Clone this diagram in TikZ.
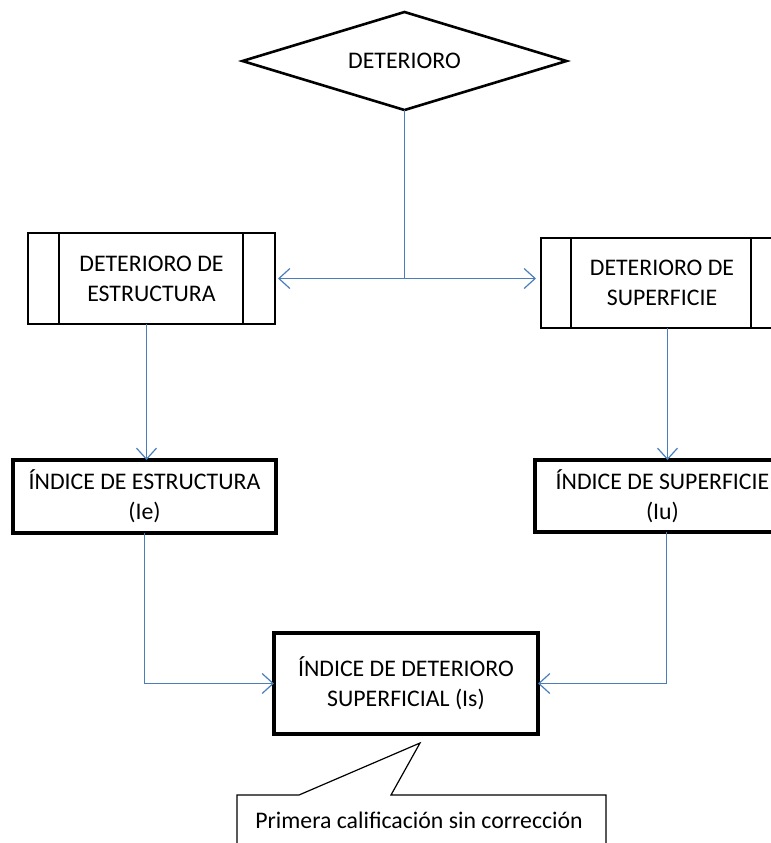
\documentclass[tikz,border=0pt]{standalone}
\usepackage{fontspec}
\setmainfont{Carlito}
\usetikzlibrary{arrows.meta,calc}
\definecolor{linkblue}{HTML}{4A7EBB}
\begin{document}
\begin{tikzpicture}[x=0.5pt,y=-0.5pt,
  font=\fontsize{11.9}{15}\selectfont,
  every node/.style={align=center,inner sep=0pt,outer sep=0pt},
  decision/.style={rectangle,minimum width=162pt,minimum height=49pt},
  procbox/.style={rectangle,draw,line width=1.1pt},
  indexbox/.style={rectangle,draw,line width=1.7pt},
  link/.style={draw=linkblue,line width=0.6pt},
  arr/.style={link,-{Straight Barb[length=5.5pt,width=10pt,line width=0.6pt]}}]
\useasboundingbox (0,0) rectangle (771,843);
\clip (0,0) rectangle (771,843);

% decision at the top, outlined through its anchors
\node[decision] (d) at (404.5,61) {DETERIORO};
\draw[line width=1.3pt,line join=miter] (d.west) -- (d.north) -- (d.east) -- (d.south) -- cycle;

% predefined-process boxes
\node[procbox,minimum width=123.5pt,minimum height=45.5pt] (ls) at (151.5,278.5) {DETERIORO DE\\ESTRUCTURA};
\draw[line width=1.1pt] ([xshift=15.5pt]ls.north west) -- ([xshift=15.5pt]ls.south west);
\draw[line width=1.1pt] ([xshift=-16pt]ls.north east) -- ([xshift=-16pt]ls.south east);

\node[procbox,minimum width=121pt,minimum height=45pt] (rs) at (662,283) {DETERIORO DE\\SUPERFICIE};
\draw[line width=1.1pt] ([xshift=15pt]rs.north west) -- ([xshift=15pt]rs.south west);
\draw[line width=1.1pt] ([xshift=-16pt]rs.north east) -- ([xshift=-16pt]rs.south east);

% index boxes
\node[indexbox,minimum width=131.5pt,minimum height=36.5pt] (li) at (144.5,496.5) {ÍNDICE DE ESTRUCTURA\\(Ie)};
\node[indexbox,minimum width=127.5pt,minimum height=36pt] (ri) at (662.5,496) {ÍNDICE DE SUPERFICIE\\(Iu)};
\node[indexbox,minimum width=132pt,minimum height=50.5pt] (is) at (406,683.5) {ÍNDICE DE DETERIORO\\SUPERFICIAL (Is)};

% connectors
\coordinate (j) at (406.5,278.5);
\draw[link] (d.south) -- (d.south |- j);
\draw[link] (d.south |- j) -- (j);
\draw[arr,shorten >=1.5pt] (j) -- (j -| ls.east);
\draw[arr,shorten >=2.5pt] (j) -- (j -| rs.west);
\draw[arr] ([xshift=-2.5pt]ls.south) -- ([xshift=-2.5pt]ls.south |- li.north);
\draw[arr] ([xshift=2.75pt]rs.south) -- ([xshift=2.75pt]rs.south |- ri.north);
\draw[arr] (li.south) |- (is.west);
\draw[arr] ([xshift=2pt]ri.south) |- (is.east);

% callout with its pointer
\coordinate (tip) at (420,743);
\draw[fill=white,line width=0.6pt] (237,880) -- (237,795) -- (299,795) -- (tip) -- (391,795) -- (606,795) -- (606,880);
\node (c) at (419,820) {Primera calificación sin corrección};
\end{tikzpicture}
\end{document}
